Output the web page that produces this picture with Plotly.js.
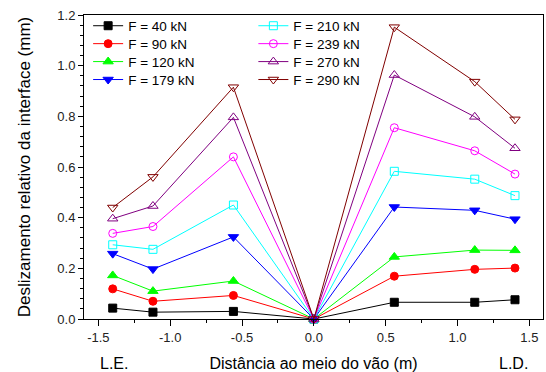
<!DOCTYPE html>
<html><head><meta charset="utf-8">
<script src="https://cdn.plot.ly/plotly-3.0.1.min.js"></script>
<style>html,body{margin:0;padding:0;background:#fff}#chart{width:546px;height:372px}</style>
</head><body><div id="chart"></div>
<script>
const xPos = [-1.4, -1.12, -0.56, 0, 0.56, 1.12, 1.4];
const seriesNames = ["F = 40 kN","F = 90 kN","F = 120 kN","F = 179 kN","F = 210 kN","F = 239 kN","F = 270 kN","F = 290 kN"];
const f40  = [0.043, 0.027, 0.030, 0, 0.066, 0.066, 0.076];
const f90  = [0.119, 0.070, 0.093, 0, 0.169, 0.196, 0.201];
const f120 = [0.172, 0.110, 0.150, 0, 0.245, 0.272, 0.271];
const f179 = [0.258, 0.197, 0.324, 0, 0.442, 0.429, 0.394];
const f210 = [0.293, 0.275, 0.450, 0, 0.583, 0.552, 0.487];
const f239 = [0.338, 0.365, 0.640, 0, 0.755, 0.664, 0.572];
const f270 = [0.396, 0.446, 0.796, 0, 0.963, 0.798, 0.674];
const f290 = [0.440, 0.561, 0.915, 0, 1.152, 0.937, 0.788];
const xTickVals = [-1.5, -1.0, -0.5, 0.0, 0.5, 1.0, 1.5];
const xTickText = ["-1.5","-1.0","-0.5","0.0","0.5","1.0","1.5"];
const yTickVals = [0, 0.2, 0.4, 0.6, 0.8, 1.0, 1.2];
const yTickText = ["0.0","0.2","0.4","0.6","0.8","1.0","1.2"];

const allY = [f40,f90,f120,f179,f210,f239,f270,f290];
const colors = ["#000000","#ff0000","#00ff00","#0000ff","#00ffff","#ff00ff","#800080","#800000"];
const symbols = ["square","circle","triangle-up","triangle-down","square-open","circle-open","triangle-up-open","triangle-down-open"];
const sizes = [8,8,9,9,8,8,9,9];

const font = "Arial, 'Liberation Sans', sans-serif";
const legendIds = ["legend","legend2","legend3","legend4","legend5","legend6","legend7","legend8"];
const traces = allY.map((y,i)=>({
  x: xPos, y: y, name: seriesNames[i], type: "scatter", mode: "lines+markers",
  line: {color: colors[i], width: 1},
  marker: {symbol: symbols[i], size: sizes[i], color: colors[i], line: {color: colors[i], width: 1}},
  legend: legendIds[i],
  cliponaxis: false
}));

const rowY = [0.964, 0.905, 0.846, 0.787];
const colX = [0.009, 0.369];

const layout = {
  width: 546, height: 372,
  margin: {l: 84, r: 3, t: 15, b: 53},
  paper_bgcolor: "#fff", plot_bgcolor: "#fff",
  font: {family: font, color: "#000", size: 13},
  showlegend: true,
  xaxis: {
    range: [-1.6, 1.595], tickvals: xTickVals, ticktext: xTickText,
    ticks: "outside", ticklen: 6, tickwidth: 1, tickcolor: "#000",
    showline: true, linecolor: "#000", linewidth: 1, mirror: true,
    showgrid: false, zeroline: false,
    tickfont: {size: 13, color: "#222"},
    minor: {dtick: 0.25, tick0: 0, ticks: "outside", ticklen: 3, tickcolor: "#000", showgrid: false},
    title: {text: "Distância ao meio do vão (m)", font: {size: 16}, standoff: 14}
  },
  yaxis: {
    range: [0, 1.2], tickvals: yTickVals, ticktext: yTickText,
    ticks: "outside", ticklen: 5, tickwidth: 1, tickcolor: "#000",
    showline: true, linecolor: "#000", linewidth: 1, mirror: true,
    showgrid: false, zeroline: false,
    tickfont: {size: 13, color: "#222"},
    minor: {dtick: 0.04, tick0: 0, ticks: "outside", ticklen: 3, tickcolor: "#000", showgrid: false},
    title: {text: "Deslizamento relativo da interface (mm)", font: {size: 17}, standoff: 22}
  },
  annotations: [
    {text: "L.E.", xref: "paper", yref: "paper", x: 0.065, y: -0.148, xanchor: "center", yanchor: "middle", showarrow: false, font: {size: 16}},
    {text: "L.D.", xref: "paper", yref: "paper", x: 0.935, y: -0.148, xanchor: "center", yanchor: "middle", showarrow: false, font: {size: 16}}
  ]
};
legendIds.forEach((id,i)=>{
  layout[id] = {x: colX[Math.floor(i/4)], y: rowY[i%4], xanchor: "left", yanchor: "middle",
    bgcolor: "rgba(0,0,0,0)", borderwidth: 0, font: {size: 13.5, family: font}};
});
Plotly.newPlot("chart", traces, layout, {displayModeBar: false, staticPlot: true});
</script></body></html>
